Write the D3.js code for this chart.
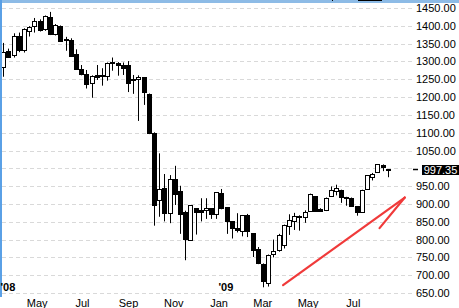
<!DOCTYPE html>
<html>
<head>
<meta charset="utf-8">
<script src="https://cdnjs.cloudflare.com/ajax/libs/d3/7.8.5/d3.min.js"></script>
<style>
  body { margin: 0; background: #fff; }
  svg { display: block; font-family: "Liberation Sans", Arial, sans-serif; }
</style>
</head>
<body>
<svg id="chart" width="459" height="308"></svg>
<script>
'use strict';

// weekly bars, S&P style index, Mar 2008 - Aug 2009
var weeks = ["2008-03-17","2008-03-24","2008-03-31","2008-04-07","2008-04-14","2008-04-21","2008-04-28",
  "2008-05-05","2008-05-12","2008-05-19","2008-05-26","2008-06-02","2008-06-09","2008-06-16","2008-06-23",
  "2008-06-30","2008-07-07","2008-07-14","2008-07-21","2008-07-28","2008-08-04","2008-08-11","2008-08-18",
  "2008-08-25","2008-09-01","2008-09-08","2008-09-15","2008-09-22","2008-09-29","2008-10-06","2008-10-13",
  "2008-10-20","2008-10-27","2008-11-03","2008-11-10","2008-11-17","2008-11-24","2008-12-01","2008-12-08",
  "2008-12-15","2008-12-22","2008-12-29","2009-01-05","2009-01-12","2009-01-19","2009-01-26","2009-02-02",
  "2009-02-09","2009-02-16","2009-02-23","2009-03-02","2009-03-09","2009-03-16","2009-03-23","2009-03-30",
  "2009-04-06","2009-04-13","2009-04-20","2009-04-27","2009-05-04","2009-05-11","2009-05-18","2009-05-26",
  "2009-06-01","2009-06-08","2009-06-15","2009-06-22","2009-06-29","2009-07-06","2009-07-13","2009-07-20",
  "2009-07-27","2009-08-03","2009-08-10","2009-08-17"];
var opens  = [1285,1330,1317,1372,1331,1388,1398,1413,1390,1424,1376,1400,1362,1360,1320,1279,1265,1240,1262,1262,
  1260,1298,1297,1290,1290,1252,1250,1255,1208,1100,911,945,874,969,937,876,800,888,883,882,888,871,930,891,851,832,
  824,869,818,773,732,679,759,773,785,840,853,867,862,880,922,887,885,922,936,940,920,918,894,878,940,976,988,1008,997.6];
var highs  = [1352,1336,1379,1381,1393,1399,1422,1418,1429,1439,1405,1401,1369,1365,1334,1290,1276,1261,1290,1281,
  1297,1311,1298,1297,1301,1262,1261,1256,1210,1101,1042,984,981,1007,951,881,897,888,916,916,888,933,942,891,851,874,
  869,872,818,779,733,758,800,816,842,871,875,868,882,929,922,888,918,949,954,940,920,918,894,940,980,987,1011,1011,998];
var lows   = [1257,1310,1311,1326,1325,1370,1381,1384,1386,1374,1373,1358,1330,1313,1276,1261,1224,1198,1248,1232,
  1246,1274,1260,1262,1214,1209,1133,1178,1096,839,864,851,846,897,816,742,800,814,851,858,858,858,885,816,803,820,
  809,807,751,731,666,668,750,766,775,813,827,825,847,880,880,878,880,922,924,903,895,893,867,875,940,966,988,992,975];
var closes = [1327,1314,1370,1333,1390,1398,1413,1387,1427,1375,1401,1359,1358,1316,1277,1264,1238,1260,1257,1258,
  1297,1294,1290,1282,1240,1248,1255,1212,1098,898,941,876,969,928,872,800,897,876,878,888,872,933,888,851,831,825,
  869,824,770,735,683,757,768,814,842,856,867,864,876,929,880,882,918,940,945,920,919,895,878,940,980,985,1011,1002,997.35];

var lastPrice = 997.35;
var yTicks = [650,700,750,800,850,900,950,1000,1050,1100,1150,1200,1250,1300,1350,1400,1450];
var monthTicks = ["2008-05-01","2008-07-01","2008-09-01","2008-11-01","2009-01-01","2009-03-01","2009-05-01","2009-07-01"];
var yearTicks = ["2008-01-01","2009-01-01"];
// hand drawn red arrow (date, value)
var arrowMain = [["2009-03-29",672],["2009-09-09",918]];
var arrowBarb = [["2009-08-06",832],["2009-09-09",918]];

var W = 459, H = 308;
var parse = d3.timeParse("%Y-%m-%d");
var bars = weeks.map(function(w, i){
  return {date: parse(w), o: opens[i], h: highs[i], l: lows[i], c: closes[i]};
});

var x = d3.scaleTime()
  .domain([parse(weeks[0]), parse(weeks[weeks.length-1])])
  .range([3.3, 387.7]);
var y = d3.scaleLinear().domain([650,1450]).range([293,8]);

var svg = d3.select("#chart");
svg.append("rect").attr("width", W).attr("height", H).attr("fill", "#fff");

// frame
svg.append("rect").attr("x", 0).attr("y", 0).attr("width", W).attr("height", 3).attr("fill", "#8dbbe6");
svg.append("rect").attr("x", 0).attr("y", 0).attr("width", 2).attr("height", 297).attr("fill", "#5aa0e6");
svg.append("rect").attr("x", 358).attr("y", 0).attr("width", 24).attr("height", 1).attr("fill", "#000");
svg.append("rect").attr("x", 332).attr("y", 0).attr("width", 1).attr("height", 1).attr("fill", "#000");

// grid
svg.append("g").selectAll("line").data(yTicks).enter().append("line")
  .attr("x1", 2).attr("x2", 414)
  .attr("y1", function(d){return Math.round(y(d)) + 0.5;})
  .attr("y2", function(d){return Math.round(y(d)) + 0.5;})
  .attr("stroke", "#d9d9d9").attr("stroke-dasharray", "4,3");

// candles
svg.append("clipPath").attr("id", "plotclip").append("rect")
  .attr("x", 2).attr("y", 3).attr("width", 412).attr("height", 295);
var cg = svg.append("g").attr("clip-path", "url(#plotclip)");
var candle = cg.selectAll(".candle").data(bars).enter().append("g").attr("class", "candle");
candle.append("line")
  .attr("x1", function(d){return Math.round(x(d.date)) + 0.5;})
  .attr("x2", function(d){return Math.round(x(d.date)) + 0.5;})
  .attr("y1", function(d){return y(d.h);})
  .attr("y2", function(d){return y(d.l);})
  .attr("stroke", "#000").attr("stroke-width", 1);
candle.append("rect")
  .attr("x", function(d){return Math.round(x(d.date)) - 1.5;})
  .attr("y", function(d){return Math.round(y(Math.max(d.o, d.c))) + 0.5;})
  .attr("width", 4)
  .attr("height", function(d){return Math.max(1, Math.round(Math.abs(y(d.o) - y(d.c))));})
  .attr("fill", function(d){return d.c >= d.o ? "#fff" : "#000";})
  .attr("stroke", "#000").attr("stroke-width", 1);

// right price axis
var yAxis = d3.axisRight(y)
  .tickValues(yTicks.filter(function(d){return Math.abs(d - lastPrice) > 10;}))
  .tickFormat(function(d){return d.toFixed(2);})
  .tickSize(0).tickPadding(0);
var ya = svg.append("g").attr("transform", "translate(416,0)").call(yAxis);
ya.select(".domain").remove();
ya.selectAll("text").attr("font-size", 11).attr("fill", "#000")
  .attr("font-family", "Liberation Sans, Arial, sans-serif");

// last price box
var yp = Math.round(y(lastPrice));
svg.append("line").attr("x1", 413).attr("x2", 418).attr("y1", yp + 0.5).attr("y2", yp + 0.5)
  .attr("stroke", "#000").attr("stroke-width", 1.5);
svg.append("rect").attr("x", 422).attr("y", yp - 4).attr("width", 37).attr("height", 10).attr("fill", "#000");
svg.append("text").attr("x", 440.5).attr("y", yp + 4.5).attr("text-anchor", "middle")
  .attr("font-size", 11).attr("fill", "#fff").text(lastPrice.toFixed(2));

// month axis
var xAxis = d3.axisBottom(x)
  .tickValues(monthTicks.map(parse))
  .tickFormat(d3.timeFormat("%b"))
  .tickSize(0).tickPadding(0);
var xa = svg.append("g").attr("transform", "translate(0,299)").call(xAxis);
xa.select(".domain").remove();
xa.selectAll("text").attr("font-size", 11).attr("fill", "#000")
  .attr("font-family", "Liberation Sans, Arial, sans-serif");

svg.append("g").selectAll("text").data(yearTicks).enter().append("text")
  .attr("x", function(d){return Math.max(0.5, x(parse(d)));})
  .attr("y", 291)
  .attr("font-size", 11).attr("font-weight", "bold").attr("fill", "#000")
  .text(function(d){return "'" + d.slice(2, 4);});

// red arrow
var arrowLine = d3.line()
  .x(function(d){return x(parse(d[0]));})
  .y(function(d){return y(d[1]);});
[arrowMain, arrowBarb].forEach(function(seg){
  svg.append("path").attr("d", arrowLine(seg))
    .attr("fill", "none").attr("stroke", "#f03a3a").attr("stroke-width", 2.2)
    .attr("stroke-linecap", "round");
});
</script>
</body>
</html>
